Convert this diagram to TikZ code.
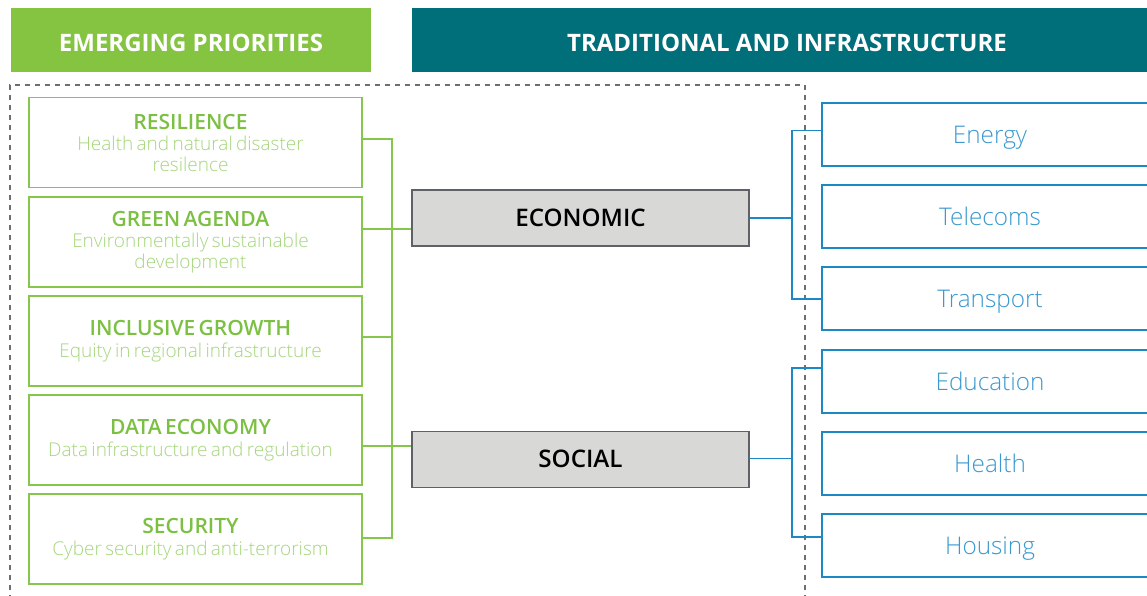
\documentclass[tikz,border=0pt]{standalone}
\usepackage{fontspec}
\setmainfont{Open Sans}
\newfontfamily\oslight{Open Sans Light}
\newfontfamily\ossemi{Open Sans Semibold}
\definecolor{hgreen}{HTML}{84C441}
\definecolor{hteal}{HTML}{006F79}
\definecolor{tgreen}{HTML}{7CC043}
\definecolor{dgreen}{HTML}{A5D67C}
\definecolor{lgreen}{HTML}{86C64C}
\definecolor{bblue}{HTML}{1D89C4}
\definecolor{tblue}{HTML}{3B99D0}
\definecolor{gfill}{HTML}{D8D8D6}
\definecolor{gdraw}{HTML}{5E6268}
\definecolor{dashc}{HTML}{6E6E6E}
\newcommand{\gttl}{\fontsize{21}{24}\selectfont\ossemi\color{tgreen}}
\newcommand{\gdsc}{\fontsize{19}{20.5}\selectfont\oslight\color{dgreen}}
\newcommand{\gshift}{\leftskip=0pt plus 1fil\rightskip=10pt plus 1fil\parfillskip=0pt}
\begin{document}
\begin{tikzpicture}[x=1pt,y=-1pt,
  header/.style={inner sep=0pt, text=white, font=\fontsize{24}{28}\selectfont\bfseries, minimum height=64pt, text height=23.7pt, text depth=0pt},
  gbox/.style={draw=lgreen, line width=1.4pt, minimum width=333pt, minimum height=90pt, inner sep=0pt, align=center, text width=330pt},
  bbox/.style={draw=bblue, line width=1.4pt, minimum width=336pt, minimum height=63pt, inner sep=0pt, text=tblue, font=\fontsize{24.3}{28}\selectfont\oslight, text height=17.3pt, text depth=0pt},
  cbox/.style={draw=gdraw, fill=gfill, line width=1.4pt, minimum width=337pt, minimum height=56pt, inner sep=0pt, font=\fontsize{24.2}{28}\selectfont\ossemi, text height=17.3pt, text depth=1pt},
  gline/.style={draw=lgreen, line width=1.3pt},
  bline/.style={draw=bblue, line width=1.4pt},
]
\useasboundingbox (0,0) rectangle (1147,595);
\clip (0,0) rectangle (1147,595);
\fill[white] (0,0) rectangle (1147,595);

% headers
\node[header, fill=hgreen, minimum width=360pt] (hl) at (191,40) {EMERGING PRIORITIES};
\node[header, fill=hteal, minimum width=750pt] (hr) at (787,40) {TRADITIONAL AND INFRASTRUCTURE};

% dashed frame
\draw[dashc, line width=1.2pt, dash pattern=on 5pt off 5pt] (805,620) -- (805,85) -- (10,85) -- (10,620);

% green boxes
\node[gbox] (g1) at (195.5,142.5) {\gshift{\gttl RESILIENCE\par}\vspace{1pt}{\gdsc Health and natural disaster\\resilence\par}};
\node[gbox] (g2) at (195.5,242) {\gshift{\gttl GREEN AGENDA\par}\vspace{1pt}{\gdsc Environmentally sustainable\\development\par}};
\node[gbox] (g3) at (195.5,341) {\gshift{\gttl INCLUSIVE GROWTH\par}\vspace{1pt}{\gdsc Equity in regional infrastructure\par}};
\node[gbox] (g4) at (195.5,440) {\gshift{\gttl DATA ECONOMY\par}\vspace{1pt}{\gdsc Data infrastructure and regulation\par}};
\node[gbox] (g5) at (195.5,539) {\gshift{\gttl SECURITY\par}\vspace{1pt}{\gdsc Cyber security and anti-terrorism\par}};

% central boxes
\node[cbox] (eco) at (580.5,218) {ECONOMIC};
\node[cbox] (soc) at (580.5,459.5) {SOCIAL};

% blue boxes
\node[bbox] (energy) at (990,134.5) {Energy};
\node[bbox] (tele) at (990,216.5) {Telecoms};
\node[bbox] (trans) at (990,298.5) {Transport};
\node[bbox] (edu) at (990,381.5) {Education};
\node[bbox] (health) at (990,463.5) {Health};
\node[bbox] (housing) at (990,545.5) {Housing};

% green connectors
\coordinate (gb1) at (392,139);
\coordinate (gb3) at (392,337);
\coordinate (gb5) at (392,538);
\coordinate (ge) at (392,229);
\coordinate (gs) at (392,446);
\draw[gline] (gb1 -| g1.east) -- (gb1) -- (gb5) -- (gb5 -| g5.east);
\draw[gline] (gb3 -| g3.east) -- (gb3);
\draw[gline] (ge -| g2.east) -- (ge -| eco.west);
\draw[gline] (gs -| g4.east) -- (gs -| soc.west);

% blue connectors
\coordinate (bt1) at (792,130.5);
\coordinate (bb1) at (792,299);
\coordinate (be) at (792,218);
\coordinate (bt2) at (792,368);
\coordinate (bb2) at (792,537);
\coordinate (bs) at (792,458.5);
\draw[bline] (bt1 -| energy.west) -- (bt1) -- (bb1) -- (bb1 -| trans.west);
\draw[bline] (be -| eco.east) -- (be);
\draw[bline] (bt2 -| edu.west) -- (bt2) -- (bb2) -- (bb2 -| housing.west);
\draw[bline] (bs -| soc.east) -- (bs);
\end{tikzpicture}
\end{document}
